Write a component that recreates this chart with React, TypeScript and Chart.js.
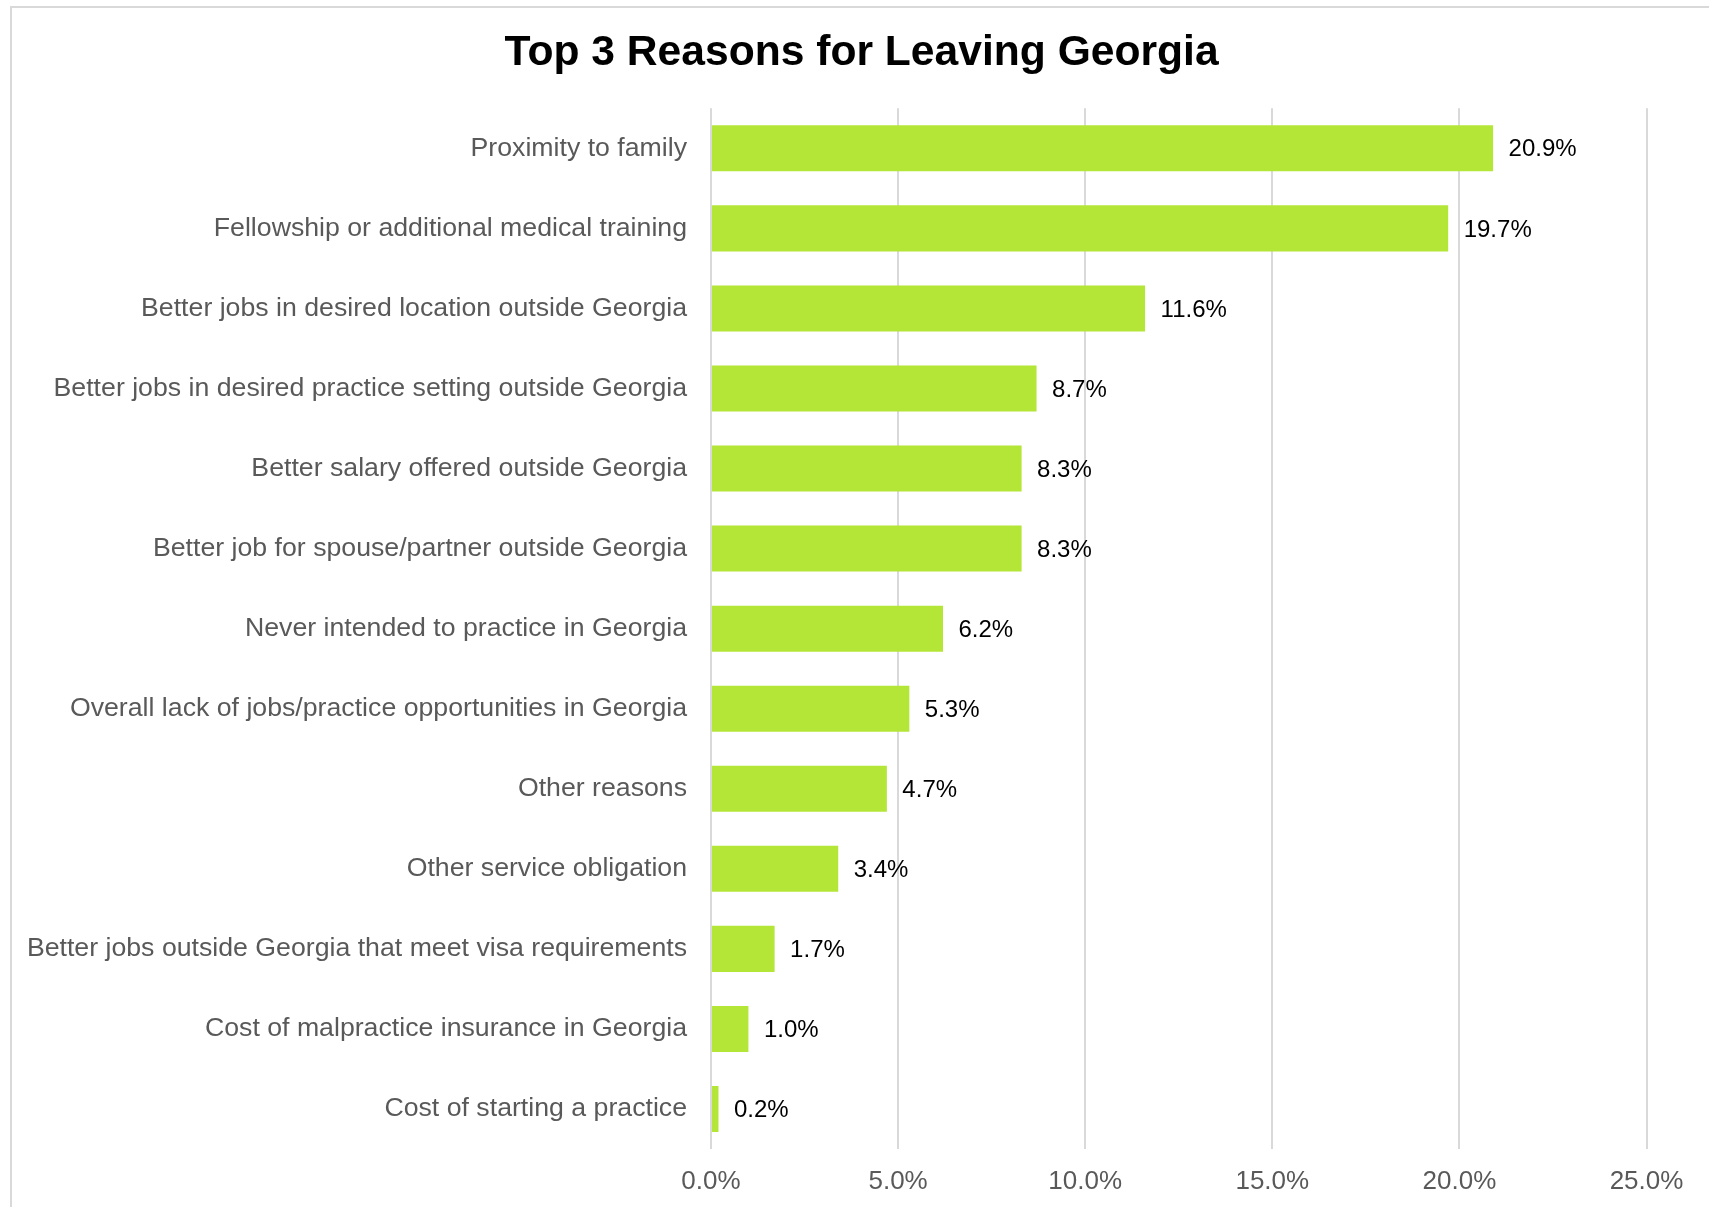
import React, { useEffect, useRef } from "react";
import { Chart, registerables } from "chart.js";

Chart.register(...registerables);

const TITLE = "Top 3 Reasons for Leaving Georgia";

const categories = [
  "Proximity to family",
  "Fellowship or additional medical training",
  "Better jobs in desired location outside Georgia",
  "Better jobs in desired practice setting outside Georgia",
  "Better salary offered outside Georgia",
  "Better job for spouse/partner outside Georgia",
  "Never intended to practice in Georgia",
  "Overall lack of jobs/practice opportunities in Georgia",
  "Other reasons",
  "Other service obligation",
  "Better jobs outside Georgia that meet visa requirements",
  "Cost of malpractice insurance in Georgia",
  "Cost of starting a practice",
];

const percentValues = [20.9, 19.7, 11.6, 8.7, 8.3, 8.3, 6.2, 5.3, 4.7, 3.4, 1.7, 1.0, 0.2];

const xTickMin = 0;
const xTickMax = 25;
const xTickStep = 5;

const FONT = "'Liberation Sans', Arial, Helvetica, sans-serif";

const titlePlugin = {
  id: "customTitle",
  afterDraw(chart: any) {
    const ctx = chart.ctx;
    ctx.save();
    ctx.font = `bold 42.6px ${FONT}`;
    ctx.fillStyle = "#000000";
    ctx.textAlign = "center";
    ctx.textBaseline = "middle";
    ctx.fillText(TITLE, 861.6, 53.6);
    ctx.restore();
  },
};

const dataLabelPlugin = {
  id: "dataLabels",
  afterDatasetsDraw(chart: any) {
    const ctx = chart.ctx;
    const meta = chart.getDatasetMeta(0);
    ctx.save();
    ctx.font = `24px ${FONT}`;
    ctx.fillStyle = "#000000";
    ctx.textAlign = "left";
    ctx.textBaseline = "middle";
    meta.data.forEach((bar: any, i: number) => {
      const v = chart.data.datasets[0].data[i] as number;
      ctx.fillText(v.toFixed(1) + "%", bar.x + 15.5, bar.y + 1.5);
    });
    ctx.restore();
  },
};

export default function App() {
  const canvasRef = useRef<HTMLCanvasElement | null>(null);

  useEffect(() => {
    const canvas = canvasRef.current;
    if (!canvas) return;
    const chart = new Chart(canvas, {
      type: "bar",
      data: {
        labels: categories,
        datasets: [
          {
            data: percentValues,
            backgroundColor: "#b3e637",
            borderWidth: 0,
            barPercentage: 0.575,
            categoryPercentage: 1,
          },
        ],
      },
      options: {
        indexAxis: "y",
        responsive: false,
        animation: false,
        devicePixelRatio: 1,
        layout: { padding: { left: 0, right: 62.5, top: 108.3, bottom: 0 } },
        plugins: {
          legend: { display: false },
          tooltip: { enabled: false },
          title: { display: false },
        },
        scales: {
          x: {
            type: "linear",
            min: xTickMin,
            max: xTickMax,
            position: "bottom",
            border: { display: false },
            grid: { color: "#d9d9d9", lineWidth: 2, drawTicks: false },
            ticks: {
              stepSize: xTickStep,
              padding: 17,
              color: "#595959",
              font: { family: FONT, size: 26 },
              callback: (v: any) => Number(v).toFixed(1) + "%",
            },
            afterFit: (scale: any) => {
              scale.height = 58;
            },
          },
          y: {
            type: "category",
            border: { display: false },
            grid: { display: false, drawTicks: false },
            ticks: {
              padding: 24,
              color: "#595959",
              font: { family: FONT, size: 26.7 },
              autoSkip: false,
            },
            afterFit: (scale: any) => {
              scale.width = 711;
            },
          },
        },
      },
      plugins: [dataLabelPlugin, titlePlugin],
    });
    return () => chart.destroy();
  }, []);

  return (
    <div
      style={{
        position: "fixed",
        left: 0,
        top: 0,
        width: 1709,
        height: 1207,
        overflow: "hidden",
        background: "#ffffff",
      }}
    >
      <div
        style={{
          position: "absolute",
          left: 10,
          top: 6,
          width: 1800,
          height: 1300,
          border: "2px solid #d9d9d9",
          boxSizing: "border-box",
        }}
      />
      <canvas
        ref={canvasRef}
        width={1709}
        height={1207}
        style={{ position: "absolute", left: 0, top: 0, width: 1709, height: 1207 }}
      />
    </div>
  );
}
